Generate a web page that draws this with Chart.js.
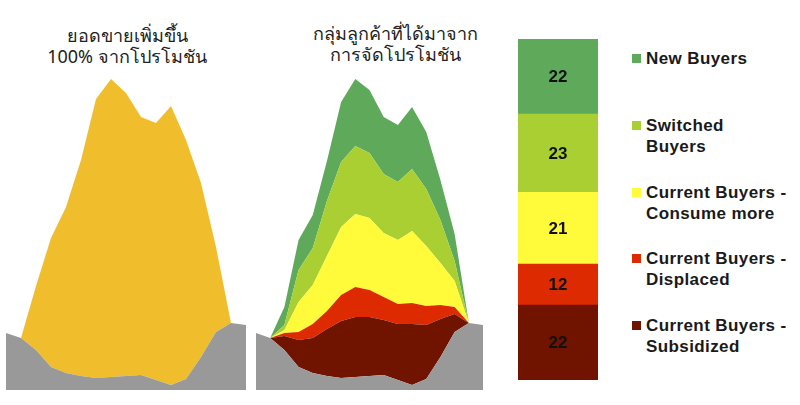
<!DOCTYPE html>
<html>
<head>
<meta charset="utf-8">
<script src="https://cdn.jsdelivr.net/npm/chart.js@4.4.1/dist/chart.umd.min.js"></script>
<style>
    body { margin: 0; background: #fff; width: 800px; height: 405px; overflow: hidden; position: relative; font-family: "Noto Sans", "DejaVu Sans", sans-serif; }
    .box { position: absolute; }
    .title { position: absolute; text-align: center; color: #222; font-size: 18px; line-height: 21px; white-space: pre-line; }
    #legend { position: absolute; left: 632px; top: 48px; }
    .item { display: flex; height: 66.8px; }
    .swatch { width: 9px; height: 9px; margin-top: 6px; margin-right: 5px; flex: none; }
    .text { font-family: "Liberation Sans", Arial, sans-serif; font-weight: bold; font-size: 17px; letter-spacing: 0.4px; line-height: 21px; color: #1a1a1a; white-space: pre-line; }
</style>
</head>
<body>
<div class="title" style="left:4px; top:25px; width:246px;">ยอดขายเพิ่มขึ้น
100% จากโปรโมชัน</div>
<div class="title" style="left:300px; top:23px; width:190px;">กลุ่มลูกค้าที่ได้มาจาก
การจัดโปรโมชัน</div>
<div class="box" style="left:6px; top:70px; width:240px; height:320px;"><canvas id="salesChart"></canvas></div>
<div class="box" style="left:256px; top:70px; width:227px; height:320px;"><canvas id="buyersChart"></canvas></div>
<div class="box" style="left:518px; top:39px; width:80px; height:341px;"><canvas id="shareChart"></canvas></div>
<div id="legend"></div>
<script>
var weeks = ["1", "2", "3", "4", "5", "6", "7", "8", "9", "10", "11", "12", "13", "14", "15", "16", "17"];

// grey baseline sales, then the extra volume during the promotion
var baseline = [57, 52, 40, 23, 17, 14, 12, 13, 14, 15, 10, 5, 11, 33, 58, 67, 65];
var promoUplift = [0, 0, 64, 129, 166, 216, 279, 298, 283, 258, 257, 279, 239, 174, 85, 0, 0];

// uplift split by buyer group
var subsidized = [0, 0, 14, 27, 35, 47, 57, 60, 59, 55, 56, 61, 54, 38, 18, 0, 0];
var displaced = [0, 0, 3, 8, 14, 18, 26, 30, 27, 23, 20, 21, 19, 14, 7, 0, 0];
var consumeMore = [0, 0, 3, 30, 39, 55, 68, 73, 72, 64, 64, 72, 60, 42, 26, 0, 0];
var switched = [0, 0, 5, 32, 37, 55, 65, 68, 65, 59, 58, 62, 57, 43, 20, 0, 0];
var newBuyers = [0, 0, 18, 30, 33, 40, 60, 67, 63, 57, 57, 62, 57, 40, 27, 0, 0];

// share of uplift (%), top of the bar first
var groupNames = ["New Buyers", "Switched\nBuyers", "Current Buyers -\nConsume more", "Current Buyers -\nDisplaced", "Current Buyers -\nSubsidized"];
var groupShare = [22, 23, 21, 12, 22];

var groupColors = ["#5faa5a", "#a9cf33", "#fffa3a", "#de2a00", "#701400"];
var grey = "#999999";
var orange = "#f0be2d";

function areaSet(data, color, fill) {
    return {
        data: data,
        backgroundColor: color,
        borderWidth: 0,
        pointRadius: 0,
        tension: 0,
        fill: fill
    };
}

var areaOptions = {
    responsive: true,
    maintainAspectRatio: false,
    animation: false,
    layout: { padding: 0 },
    plugins: { legend: { display: false }, tooltip: { enabled: false } },
    scales: {
        x: { display: false },
        y: { display: false, stacked: true, min: 0, max: 320 }
    }
};

var salesCtx = document.getElementById("salesChart");
var salesChart = new Chart(salesCtx, {
    type: 'line',
    data: {
        labels: weeks,
        datasets: [
            areaSet(baseline, grey, 'origin'),
            areaSet(promoUplift, orange, '-1')
        ]
    },
    options: areaOptions
});

var buyersCtx = document.getElementById("buyersChart");
var buyersChart = new Chart(buyersCtx, {
    type: 'line',
    data: {
        labels: weeks,
        datasets: [
            areaSet(baseline, grey, 'origin'),
            areaSet(subsidized, groupColors[4], '-1'),
            areaSet(displaced, groupColors[3], '-1'),
            areaSet(consumeMore, groupColors[2], '-1'),
            areaSet(switched, groupColors[1], '-1'),
            areaSet(newBuyers, groupColors[0], '-1')
        ]
    },
    options: areaOptions
});

// writes each segment's value in the middle of its block
var barLabels = {
    id: 'barLabels',
    afterDatasetsDraw: function(chart) {
        var ctx = chart.ctx;
        ctx.save();
        ctx.font = "bold 17px 'Liberation Sans', Arial, sans-serif";
        ctx.fillStyle = "#111";
        ctx.textAlign = "center";
        ctx.textBaseline = "middle";
        chart.data.datasets.forEach(function(ds, i) {
            var bar = chart.getDatasetMeta(i).data[0];
            var p = bar.getCenterPoint();
            ctx.fillText(ds.data[0], p.x, p.y + 1);
        });
        ctx.restore();
    }
};

var shareSets = [];
for (var i = groupShare.length - 1; i >= 0; i--) {
    shareSets.push({
        label: groupNames[i],
        data: [groupShare[i]],
        backgroundColor: groupColors[i],
        borderWidth: 0,
        barPercentage: 1,
        categoryPercentage: 1
    });
}

var shareCtx = document.getElementById("shareChart");
var shareChart = new Chart(shareCtx, {
    type: 'bar',
    data: { labels: ["Uplift"], datasets: shareSets },
    options: {
        responsive: true,
        maintainAspectRatio: false,
        animation: false,
        layout: { padding: 0 },
        plugins: { legend: { display: false }, tooltip: { enabled: false } },
        scales: {
            x: { display: false, stacked: true },
            y: { display: false, stacked: true, min: 0, max: 100 }
        }
    },
    plugins: [barLabels]
});

var legend = document.getElementById("legend");
groupNames.forEach(function(name, i) {
    var item = document.createElement("div");
    item.className = "item";
    var sw = document.createElement("div");
    sw.className = "swatch";
    sw.style.background = groupColors[i];
    var tx = document.createElement("div");
    tx.className = "text";
    tx.textContent = name;
    item.appendChild(sw);
    item.appendChild(tx);
    legend.appendChild(item);
});
</script>
</body>
</html>
